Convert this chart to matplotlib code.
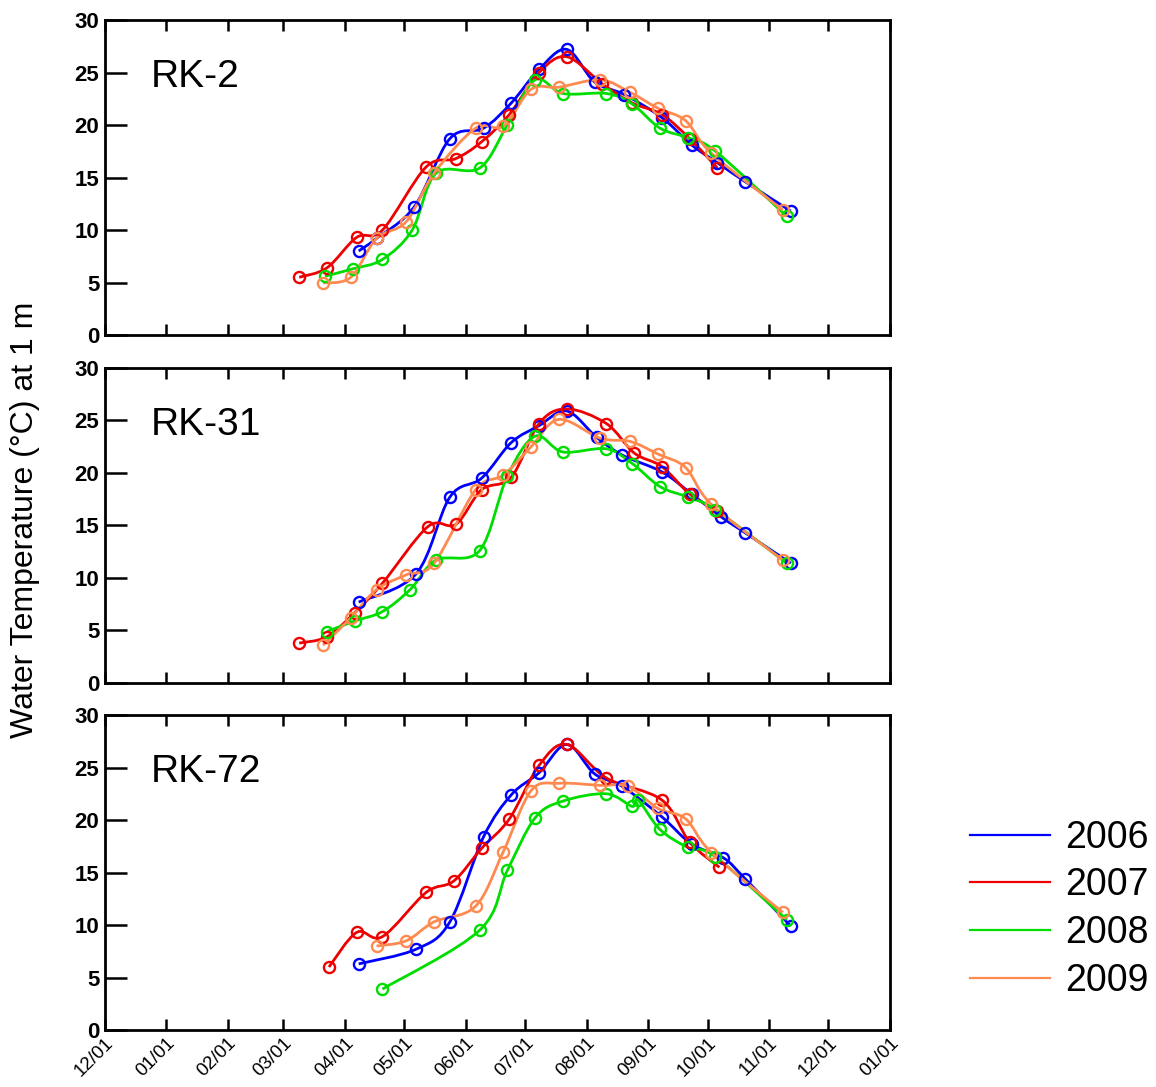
"""
Water temperature at 1 m, three river stations, four years overlaid on one seasonal axis.
"""
from datetime import datetime
import numpy as np
import matplotlib
matplotlib.use("Agg")
import matplotlib.pyplot as plt
import matplotlib.dates as mdates
from matplotlib.path import Path
from matplotlib.patches import PathPatch
from matplotlib.lines import Line2D

plt.rcParams["font.family"] = ["Liberation Sans", "DejaVu Sans"]

YEARS = ["2006", "2007", "2008", "2009"]
COLORS = ["#0000ff", "#ee0000", "#00dd00", "#ff8a50"]
STATIONS = ["RK-2", "RK-31", "RK-72"]

# --- RK-2 (dates as month/day, temperature in deg C) ---
rk2_dates = {
    "2006": ["04/08", "04/17", "05/06", "05/24", "06/10", "06/24", "07/08", "07/22",
             "08/05", "08/20", "09/08", "09/23", "10/06", "10/20", "11/12"],
    "2007": ["03/09", "03/23", "04/07", "04/20", "05/12", "05/27", "06/09", "06/23",
             "07/08", "07/22", "08/09", "08/24", "09/08", "09/22", "10/06"],
    "2008": ["03/22", "04/05", "04/20", "05/05", "05/17", "06/08", "06/22", "07/06",
             "07/20", "08/11", "08/24", "09/07", "09/21", "10/05", "11/10"],
    "2009": ["03/21", "04/04", "04/17", "05/02", "05/16", "06/06", "06/20", "07/04",
             "07/18", "08/08", "08/23", "09/06", "09/20", "10/03", "11/08"],
}
rk2_temp = {
    "2006": [8.0, 9.2, 12.2, 18.7, 19.7, 22.1, 25.3, 27.2, 24.1, 22.9, 20.7, 18.1, 16.4, 14.6, 11.8],
    "2007": [5.5, 6.4, 9.3, 10.0, 16.0, 16.8, 18.4, 21.0, 25.0, 26.5, 23.9, 22.1, 21.0, 18.7, 15.9],
    "2008": [5.6, 6.3, 7.2, 10.0, 15.4, 15.9, 20.0, 24.3, 23.0, 23.0, 22.0, 19.7, 18.8, 17.5, 11.3],
    "2009": [4.95, 5.5, 9.2, 10.8, 15.4, 19.7, 19.9, 23.4, 23.6, 24.3, 23.1, 21.6, 20.4, 17.3, 11.9],
}

# --- RK-31 ---
rk31_dates = {
    "2006": ["04/08", "05/07", "05/24", "06/09", "06/24", "07/08", "07/22", "08/06",
             "08/19", "09/08", "09/23", "10/08", "10/20", "11/12"],
    "2007": ["03/09", "03/23", "04/06", "04/20", "05/13", "05/27", "06/09", "06/24",
             "07/08", "07/22", "08/11", "08/25", "09/08", "09/22", "10/06"],
    "2008": ["03/23", "04/06", "04/20", "05/04", "05/17", "06/08", "06/22", "07/06",
             "07/20", "08/11", "08/24", "09/07", "09/21", "10/05", "11/10"],
    "2009": ["03/21", "04/04", "04/17", "05/02", "05/16", "06/06", "06/20", "07/04",
             "07/18", "08/08", "08/23", "09/06", "09/20", "10/03", "11/08"],
}
rk31_temp = {
    "2006": [7.7, 10.4, 17.7, 19.5, 22.9, 24.5, 25.9, 23.4, 21.7, 20.1, 18.0, 15.8, 14.3, 11.4],
    "2007": [3.8, 4.4, 6.7, 9.5, 14.9, 15.1, 18.4, 19.6, 24.7, 26.1, 24.7, 21.9, 20.6, 18.0, 16.4],
    "2008": [4.9, 5.9, 6.8, 8.9, 11.7, 12.6, 19.7, 23.5, 22.0, 22.3, 20.9, 18.7, 17.7, 16.5, 11.4],
    "2009": [3.6, 6.2, 8.9, 10.3, 11.4, 18.4, 19.8, 22.5, 25.1, 23.3, 23.0, 21.8, 20.5, 17.0, 11.7],
}

# --- RK-72 ---
rk72_dates = {
    "2006": ["04/08", "05/07", "05/24", "06/10", "06/24", "07/08", "07/22", "08/05",
             "08/19", "09/08", "09/23", "10/09", "10/20", "11/12"],
    "2007": ["03/24", "04/07", "04/20", "05/12", "05/26", "06/09", "06/23", "07/08",
             "07/22", "08/11", "09/08", "09/22", "10/07"],
    "2008": ["04/20", "06/08", "06/22", "07/06", "07/20", "08/11", "08/24", "08/27",
             "09/07", "09/21", "10/05", "11/10"],
    "2009": ["04/17", "05/02", "05/16", "06/06", "06/20", "07/04", "07/18", "08/08",
             "08/22", "09/06", "09/20", "10/03", "11/08"],
}
rk72_temp = {
    "2006": [6.3, 7.7, 10.3, 18.4, 22.4, 24.5, 27.2, 24.4, 23.2, 20.3, 17.7, 16.4, 14.4, 9.9],
    "2007": [6.0, 9.3, 8.9, 13.1, 14.2, 17.3, 20.1, 25.2, 27.2, 24.0, 21.9, 17.9, 15.5],
    "2008": [3.9, 9.5, 15.2, 20.2, 21.8, 22.5, 21.3, 21.9, 19.1, 17.4, 16.5, 10.5],
    "2009": [8.0, 8.5, 10.3, 11.8, 17.0, 22.8, 23.5, 23.3, 23.2, 21.1, 20.1, 16.9, 11.2],
}

DATA = [(rk2_dates, rk2_temp), (rk31_dates, rk31_temp), (rk72_dates, rk72_temp)]

# month ticks from 12/01 of previous year to 01/01 of next year
tick_dates = [datetime(2005, 12, 1)] + [datetime(2006, m, 1) for m in range(1, 13)] + [datetime(2007, 1, 1)]


def to_num(md):
    m, d = md.split("/")
    return mdates.date2num(datetime(2006, int(m), int(d)))


def smooth_path(x, y):
    # Catmull-Rom through the measured points, drawn as cubic Bezier segments
    pts = np.column_stack([x, y])
    verts = [pts[0]]
    codes = [Path.MOVETO]
    n = len(pts)
    for i in range(n - 1):
        p0 = pts[max(i - 1, 0)]
        p1 = pts[i]
        p2 = pts[i + 1]
        p3 = pts[min(i + 2, n - 1)]
        c1 = p1 + (p2 - p0) / 6.0
        c2 = p2 - (p3 - p1) / 6.0
        # keep control points inside the segment in x so the curve never doubles back
        c1[0] = np.clip(c1[0], p1[0], p2[0])
        c2[0] = np.clip(c2[0], p1[0], p2[0])
        verts += [c1, c2, p2]
        codes += [Path.CURVE4] * 3
    return Path(verts, codes)


fig = plt.figure(figsize=(11.56, 10.87), dpi=100)
fig.patch.set_facecolor("white")

left, width = 0.0908, 0.679
bottoms = [0.6918, 0.3717, 0.0524]
height = 0.2898

for k, (dates, temps) in enumerate(DATA):
    ax = fig.add_axes([left, bottoms[k], width, height])
    for yr, col in zip(YEARS, COLORS):
        x = np.array([to_num(s) for s in dates[yr]])
        y = np.array(temps[yr])
        ax.add_patch(PathPatch(smooth_path(x, y), facecolor="none", edgecolor=col,
                               linewidth=2.0, zorder=3))
        ax.plot(x, y, "o", mfc="none", mec=col, mew=1.7, markersize=8, zorder=4)

    ax.set_xlim(mdates.date2num(tick_dates[0]), mdates.date2num(tick_dates[-1]))
    ax.set_ylim(0, 30)
    ax.set_yticks(range(0, 31, 5))
    ax.set_xticks(mdates.date2num(tick_dates))
    if k == 2:
        ax.set_xticklabels([d.strftime("%m/%d") for d in tick_dates], rotation=45,
                           ha="right", va="top", fontsize=13.5, rotation_mode="anchor")
    else:
        ax.set_xticklabels([])
    ax.tick_params(axis="x", direction="in", length=8, width=1.8, top=True, bottom=True)
    ax.tick_params(axis="y", direction="in", length=16, width=1.8, left=True, right=False,
                   labelsize=16, pad=4)
    for lab in ax.get_yticklabels():
        lab.set_fontweight("bold")
    for sp in ax.spines.values():
        sp.set_linewidth(2.0)
    ax.text(0.058, 0.82, STATIONS[k], transform=ax.transAxes, fontsize=28,
            ha="left", va="center")

fig.text(0.022, 0.522, "Water Temperature (°C) at 1 m", rotation=90, fontsize=23,
         ha="center", va="center")

handles = [Line2D([], [], color=c, linewidth=1.6) for c in COLORS]
fig.legend(handles, YEARS, loc="center left", bbox_to_anchor=(0.839, 0.1635),
           frameon=False, fontsize=27, handlelength=2.13, handletextpad=0.4,
           labelspacing=0.31, borderpad=0, borderaxespad=0)

plt.savefig("out.png", dpi=100)
